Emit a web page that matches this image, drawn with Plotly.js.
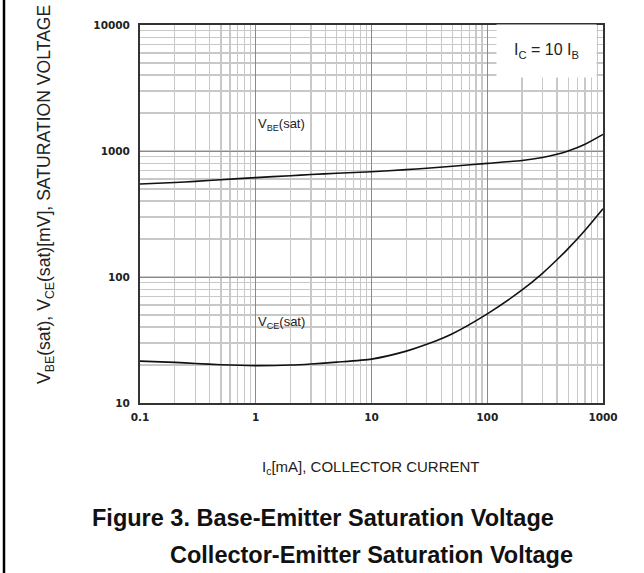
<!DOCTYPE html>
<html>
<head>
<meta charset="utf-8">
<script src="https://cdn.plot.ly/plotly-3.0.1.min.js"></script>
<style>
html,body{margin:0;padding:0;background:#fff;}
#chart{width:644px;height:573px;}
</style>
</head>
<body>
<div id="chart"></div>
<script>
// Collector current Ic [mA]
var icVbe = [0.1, 0.2, 0.3, 0.5, 1, 2, 3, 5, 10, 20, 30, 50, 100, 200, 300, 400, 500, 700, 1000];
var vbeSat = [547, 563, 574, 592, 615, 637, 650, 666, 685, 712, 730, 757, 798, 841, 887, 941, 1000, 1132, 1355];
var icVce = [0.1, 0.2, 0.3, 0.5, 1, 2, 3, 5, 10, 20, 30, 50, 100, 200, 300, 400, 500, 700, 1000];
var vceSat = [21.5, 21.0, 20.6, 20.1, 19.8, 20.0, 20.4, 21.1, 22.3, 25.8, 29.2, 35.5, 51, 79, 107, 137, 168, 235, 348];

var xTickVals = [0.1, 1, 10, 100, 1000];
var xTickText = ['0.1', '1', '10', '100', '1000'];
var yTickVals = [10, 100, 1000, 10000];
var yTickText = ['10', '100', '1000', '10000'];

var W = 644, H = 573, L = 140, R = 41, T = 25, B = 170;
var pw = W - L - R, ph = H - T - B;
function px(x) { return (x - L) / pw; }
function py(y) { return (H - B - y) / ph; }

var font = 'Liberation Sans, Arial, sans-serif';
var tickFontFamily = 'DejaVu Sans, sans-serif';

var traces = [
  {x: icVbe, y: vbeSat, type: 'scatter', mode: 'lines', line: {color: '#111', width: 1.6, shape: 'spline', smoothing: 0.6}, hoverinfo: 'skip'},
  {x: icVce, y: vceSat, type: 'scatter', mode: 'lines', line: {color: '#111', width: 1.6, shape: 'spline', smoothing: 0.6}, hoverinfo: 'skip'}
];

var layout = {
  width: W, height: H,
  margin: {l: L, r: R, t: T, b: B, pad: 0},
  paper_bgcolor: '#fff', plot_bgcolor: '#fff',
  showlegend: false,
  font: {family: font, color: '#222'},
  xaxis: {
    type: 'log', range: [-1, 3],
    tickmode: 'array', tickvals: xTickVals, ticktext: xTickText,
    tickfont: {family: tickFontFamily, size: 10.5, weight: 'bold', color: '#222'},
    ticks: 'outside', ticklen: 3, tickcolor: 'rgba(0,0,0,0)',
    showgrid: true, gridcolor: '#8a8a8a', gridwidth: 1,
    minor: {dtick: 'D1', showgrid: true, gridcolor: '#c8c8c8', gridwidth: 1.3, ticks: ''},
    showline: true, linecolor: '#333', linewidth: 2, mirror: true,
    zeroline: false
  },
  yaxis: {
    type: 'log', range: [1, 4],
    tickmode: 'array', tickvals: yTickVals, ticktext: yTickText,
    tickfont: {family: tickFontFamily, size: 10.5, weight: 'bold', color: '#222'},
    ticks: 'outside', ticklen: 6, tickcolor: 'rgba(0,0,0,0)',
    showgrid: true, gridcolor: '#8a8a8a', gridwidth: 1,
    minor: {dtick: 'D1', showgrid: true, gridcolor: '#c8c8c8', gridwidth: 1.3, ticks: ''},
    showline: true, linecolor: '#333', linewidth: 2, mirror: true,
    zeroline: false
  },
  shapes: [
    {type: 'line', xref: 'paper', yref: 'paper', x0: px(4), x1: px(4), y0: py(0), y1: py(H), line: {color: '#000', width: 2.5}}
  ],
  annotations: [
    {xref: 'paper', yref: 'paper', x: px(45), y: py(195), text: 'V<sub>BE</sub>(sat), V<sub>CE</sub>(sat)[mV], SATURATION VOLTAGE', textangle: -90, showarrow: false, font: {family: font, size: 17.6, color: '#222'}, xanchor: 'center', yanchor: 'middle'},
    {xref: 'paper', yref: 'paper', x: px(371), y: py(468), text: 'I<sub>c</sub>[mA], COLLECTOR CURRENT', showarrow: false, font: {family: font, size: 15, color: '#222'}, xanchor: 'center', yanchor: 'middle'},
    {xref: 'paper', yref: 'paper', x: px(90), y: py(518), text: '<b>Figure 3. Base-Emitter Saturation Voltage</b>', showarrow: false, font: {family: font, size: 23.5, color: '#111'}, xanchor: 'left', yanchor: 'middle'},
    {xref: 'paper', yref: 'paper', x: px(168), y: py(555), text: '<b>Collector-Emitter Saturation Voltage</b>', showarrow: false, font: {family: font, size: 23.5, color: '#111'}, xanchor: 'left', yanchor: 'middle'},
    {xref: 'x', yref: 'y', x: 0, y: Math.log10(1637), text: 'V<sub>BE</sub>(sat)', showarrow: false, font: {family: font, size: 13, color: '#222'}, xanchor: 'left', yanchor: 'middle'},
    {xref: 'x', yref: 'y', x: 0, y: Math.log10(43.4), text: 'V<sub>CE</sub>(sat)', showarrow: false, font: {family: font, size: 13, color: '#222'}, xanchor: 'left', yanchor: 'middle'},
    {xref: 'paper', yref: 'paper', x: px(546.5), y: py(51), text: 'I<sub>C</sub> = 10 I<sub>B</sub>', showarrow: false, font: {family: font, size: 16, color: '#222'}, xanchor: 'center', yanchor: 'middle', bgcolor: '#fff', width: 97, height: 50}
  ]
};

Plotly.newPlot('chart', traces, layout, {displayModeBar: false, staticPlot: true});
</script>
</body>
</html>
